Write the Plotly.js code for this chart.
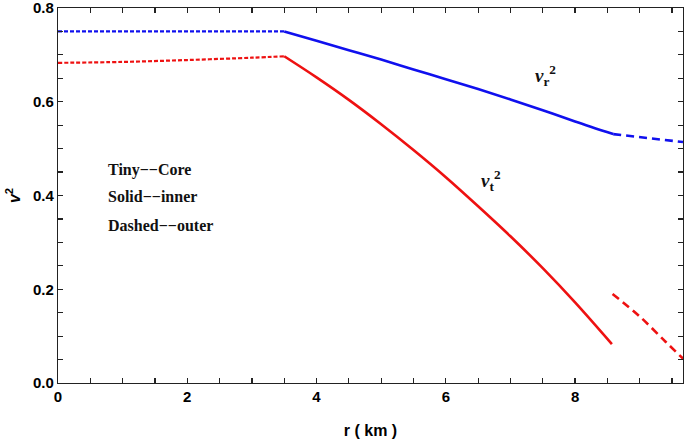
<!DOCTYPE html>
<html>
<head>
<meta charset="utf-8">
<script src="https://cdn.plot.ly/plotly-3.0.1.min.js"></script>
<style>html,body{margin:0;padding:0;background:#fff;}#chart{width:685px;height:441px;}</style>
</head>
<body>
<div id="chart"></div>
<script>
// Radial velocity squared
const rCoreR = [0, 1, 2, 3, 3.5];
const vrCore = [0.750, 0.750, 0.750, 0.750, 0.750];
const rInnerR = [3.5, 4.0, 4.5, 5.0, 5.5, 6.0, 6.5, 7.0, 7.5, 8.0, 8.59];
const vrInner = [0.750, 0.730, 0.710, 0.690, 0.669, 0.648, 0.627, 0.605, 0.582, 0.558, 0.531];
const rOuterR = [8.59, 9.0, 9.4, 9.67];
const vrOuter = [0.531, 0.525, 0.519, 0.514];

// Tangential velocity squared
const rCoreT = [0, 1, 2, 3, 3.5];
const vtCore = [0.683, 0.685, 0.689, 0.694, 0.697];
const rInnerT = [3.5, 4.0, 4.5, 5.0, 5.5, 6.0, 6.5, 7.0, 7.5, 8.0, 8.57];
const vtInner = [0.697, 0.652, 0.604, 0.552, 0.497, 0.439, 0.377, 0.313, 0.245, 0.172, 0.083];
const rOuterT = [8.58, 9.0, 9.4, 9.67];
const vtOuter = [0.190, 0.142, 0.088, 0.052];

// Tick positions (majors labelled, minors blank)
const xTickVals = [0, 0.5, 1, 1.5, 2, 2.5, 3, 3.5, 4, 4.5, 5, 5.5, 6, 6.5, 7, 7.5, 8, 8.5, 9, 9.5];
const xTickText = ['0', '', '', '', '2', '', '', '', '4', '', '', '', '6', '', '', '', '8', '', '', ''];
const yTickVals = [0, 0.05, 0.1, 0.15, 0.2, 0.25, 0.3, 0.35, 0.4, 0.45, 0.5, 0.55, 0.6, 0.65, 0.7, 0.75, 0.8];
const yTickText = ['0.0', '', '', '', '0.2', '', '', '', '0.4', '', '', '', '0.6', '', '', '', '0.8'];
const noteLines = ['Tiny\u2212\u2212Core', 'Solid\u2212\u2212inner', 'Dashed\u2212\u2212outer'];
const noteY = [0.454, 0.397, 0.337];

const blue = '#1010ee';
const red = '#ee1111';

const traces = [
  {x: rCoreR, y: vrCore, mode: 'lines', line: {color: blue, width: 2.2, dash: '4px,2px'}},
  {x: rInnerR, y: vrInner, mode: 'lines', line: {color: blue, width: 2.6, shape: 'spline'}},
  {x: rOuterR, y: vrOuter, mode: 'lines', line: {color: blue, width: 2.6, dash: '8px,5px'}},
  {x: rCoreT, y: vtCore, mode: 'lines', line: {color: red, width: 2.2, dash: '4px,2px', shape: 'spline'}},
  {x: rInnerT, y: vtInner, mode: 'lines', line: {color: red, width: 2.6, shape: 'spline'}},
  {x: rOuterT, y: vtOuter, mode: 'lines', line: {color: red, width: 2.6, dash: '8px,5px', shape: 'spline'}}
];

const serif = 'Liberation Serif, serif';
const annotations = [
  {x: 7.55, y: 0.657, xref: 'x', yref: 'y', showarrow: false,
   text: '<b><i>v</i><sub>r</sub><sup>2</sup></b>', font: {family: serif, size: 19, color: '#111'}},
  {x: 6.7, y: 0.433, xref: 'x', yref: 'y', showarrow: false,
   text: '<b><i>v</i><sub>t</sub><sup>2</sup></b>', font: {family: serif, size: 19, color: '#111'}}
];
noteLines.forEach((t, i) => annotations.push({
  x: 0.75, y: noteY[i], xref: 'x', yref: 'y', xanchor: 'left', showarrow: false,
  text: '<b>' + t + '</b>', font: {family: serif, size: 16, color: '#111'}
}));

const axisFont = {family: 'Liberation Sans, Arial, sans-serif', size: 15, color: '#000', weight: 'bold'};

const layout = {
  width: 685, height: 441,
  margin: {l: 58, r: 2, t: 8, b: 58},
  paper_bgcolor: '#fff', plot_bgcolor: '#fff',
  showlegend: false,
  xaxis: {
    range: [0, 9.67], tickmode: 'array', tickvals: xTickVals, ticktext: xTickText,
    ticks: 'inside', ticklen: 5, tickcolor: '#222', tickwidth: 1.2,
    showline: true, linecolor: '#222', linewidth: 1.2, mirror: 'allticks',
    showgrid: false, zeroline: false, ticklabeloverflow: 'allow',
    tickfont: axisFont,
    title: {text: '<b>r ( km )</b>', font: {family: 'Liberation Sans, Arial, sans-serif', size: 16, color: '#000'}, standoff: 20}
  },
  yaxis: {
    range: [0, 0.8], tickmode: 'array', tickvals: yTickVals, ticktext: yTickText,
    ticks: 'inside', ticklen: 5, tickcolor: '#222', tickwidth: 1.2,
    showline: true, linecolor: '#222', linewidth: 1.2, mirror: 'allticks',
    showgrid: false, zeroline: false, ticklabeloverflow: 'allow',
    tickfont: axisFont,
    title: {text: '<b><i>v</i><sup>2</sup></b>', font: {family: 'Liberation Sans, Arial, sans-serif', size: 16, color: '#000'}, standoff: 8}
  },
  annotations: annotations
};

Plotly.newPlot('chart', traces, layout, {staticPlot: true, displayModeBar: false});
</script>
</body>
</html>
